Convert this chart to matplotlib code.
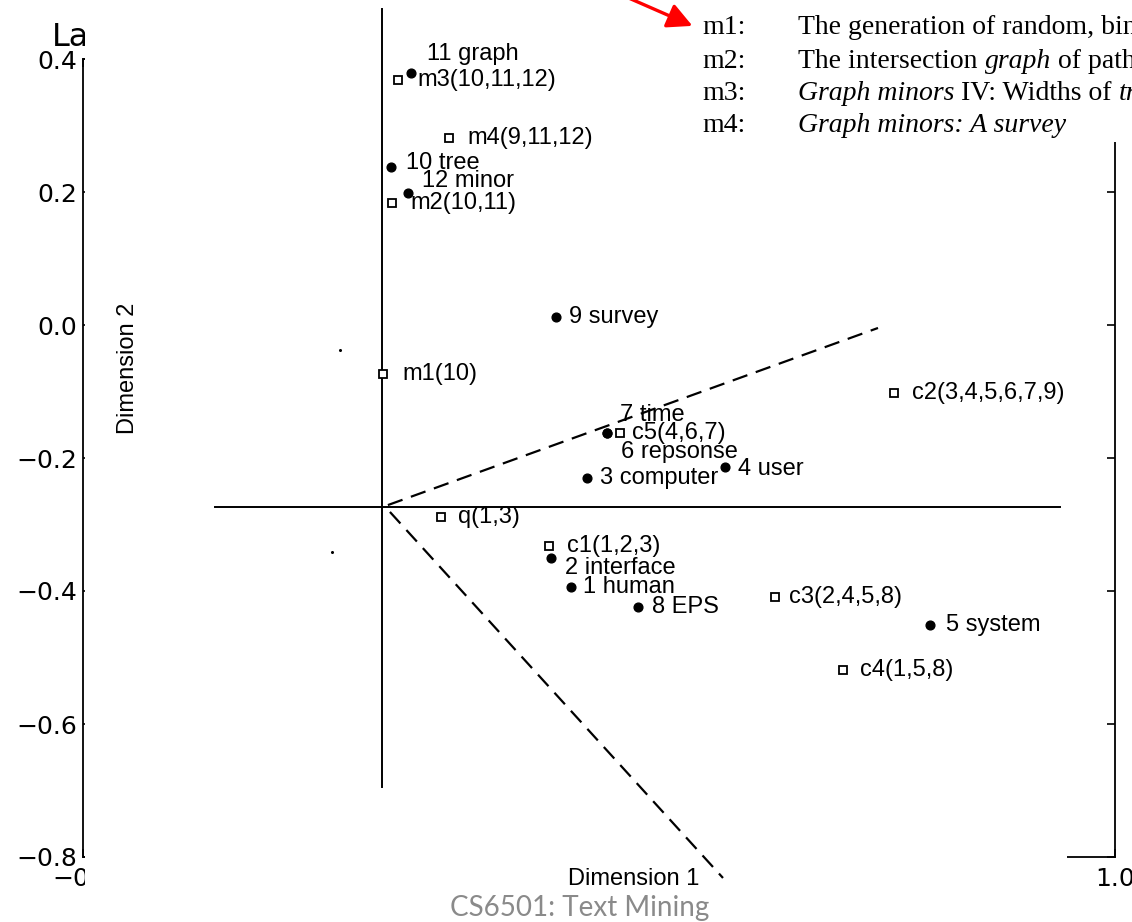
import matplotlib.pyplot as plt
from matplotlib.patches import Rectangle

# LSI plot (Deerwester et al.) values: Dimension 1, Dimension 2
term_names = ['1 human', '2 interface', '3 computer', '4 user', '5 system',
              '6 repsonse', '7 time', '8 EPS', '9 survey', '10 tree',
              '11 graph', '12 minor']
term_x = [0.738, 0.660, 0.801, 1.340, 2.141, 0.879, 0.879, 1.000, 0.680, 0.035, 0.113, 0.102]
term_y = [-0.291, -0.185, 0.105, 0.145, -0.429, 0.269, 0.269, -0.364, 0.691, 1.236, 1.578, 1.142]

doc_names = ['c1(1,2,3)', 'c2(3,4,5,6,7,9)', 'c3(2,4,5,8)', 'c4(1,5,8)', 'c5(4,6,7)',
             'm1(10)', 'm2(10,11)', 'm3(10,11,12)', 'm4(9,11,12)', 'q(1,3)']
doc_x = [0.652, 2.000, 1.535, 1.801, 0.930, 0.004, 0.039, 0.0625, 0.262, 0.230]
doc_y = [-0.142, 0.415, -0.327, -0.593, 0.269, 0.484, 1.105, 1.553, 1.342, -0.036]

# query cone (dashed) end points
cone_upper_x = [0.023, 1.9375]
cone_upper_y = [0.007, 0.651]
cone_lower_x = [0.031, 1.332]
cone_lower_y = [-0.018, -1.349]

# document titles listed top right
doc_ids = ['m1:', 'm2:', 'm3:', 'm4:']
doc_titles = [
    [('The generation of random, binary, ordered trees', 'normal')],
    [('The intersection ', 'normal'), ('graph', 'italic'), (' of paths in trees', 'normal')],
    [('Graph minors', 'italic'), (' IV: Widths of ', 'normal'), ('trees', 'italic'),
     (' and well-quasi-ordering', 'normal')],
    [('Graph minors: A survey', 'italic')],
]

# background axes ticks
y_ticks = [0.4, 0.2, 0.0, -0.2, -0.4, -0.6, -0.8]
x_ticks = [-0.2, 0.0, 0.2, 0.4, 0.6, 0.8, 1.0]

# label offsets in pixels (dx, dy up)
label_off = {
    '1 human': (12, 0), '2 interface': (14, -10), '3 computer': (13, 0),
    '4 user': (13, -2), '5 system': (16, 0), '6 repsonse': (14, -19),
    '7 time': (13, 18), '8 EPS': (14, 0), '9 survey': (13, 0),
    '10 tree': (15, 4), '11 graph': (16, 19), '12 minor': (14, 12),
    'c1(1,2,3)': (18, 0), 'c2(3,4,5,6,7,9)': (18, 0), 'c3(2,4,5,8)': (14, 0),
    'c4(1,5,8)': (17, 0), 'c5(4,6,7)': (12, 0), 'm1(10)': (19, 0),
    'm2(10,11)': (18, 0), 'm3(10,11,12)': (19, 0), 'm4(9,11,12)': (18, 0),
    'q(1,3)': (17, 0),
}

W, H = 1132, 922
fig = plt.figure(figsize=(W / 100, H / 100), dpi=100)

# ---- underlying matplotlib axes (mostly hidden by the pasted scan) ----
ax = fig.add_axes([83 / W, 1 - 857 / H, (1115 - 83) / W, (857 - 59) / H])
ax.set_xlim(-0.2, 1.0)
ax.set_ylim(-0.8, 0.4)
ax.set_xticks(x_ticks)
ax.set_yticks(y_ticks)
ax.tick_params(direction='in', length=6, width=1.2, labelsize=18,
               right=True, top=True)
ax.tick_params(axis='x', pad=7)
ax.tick_params(axis='y', pad=4)
for s in ax.spines.values():
    s.set_linewidth(1.3)

fig.text(52 / W, 1 - 37 / H, 'La', fontsize=23, va='center', ha='left', zorder=0.5)

# white areas of the pasted images
fig.add_artist(Rectangle((84.5 / W, 1 - 892 / H), (1067 - 84.5) / W, 892 / H,
                         transform=fig.transFigure, fc='white', ec='none', zorder=1))
fig.add_artist(Rectangle((1060 / W, 1 - 142 / H), (W - 1060) / W, 142 / H,
                         transform=fig.transFigure, fc='white', ec='none', zorder=1))

# ---- scanned LSI figure ----
ax2 = fig.add_axes([0, 0, 1, 1], zorder=2)
ax2.patch.set_visible(False)
ax2.axis('off')
ax2.set_xlim(-382 / 256, (W - 382) / 256)
ax2.set_ylim((507 - H) / 275, 507 / 275)

ax2.plot([0, 0], [1.811, -1.018], color='black', lw=1.4)
ax2.plot([-0.652, 2.648], [0, 0], color='black', lw=1.4)
ax2.plot(cone_upper_x, cone_upper_y, color='black', lw=1.6, ls=(0, (7, 4)))
ax2.plot(cone_lower_x, cone_lower_y, color='black', lw=1.6, ls=(0, (7, 4)))

ax2.plot(term_x, term_y, 'o', color='black', ms=6.3, ls='none')
ax2.plot(doc_x, doc_y, 's', mfc='white', mec='black', mew=1.3, ms=6.3, ls='none')

lab_font = dict(fontsize=17, family='Liberation Sans', va='center', ha='left')
for n, x, y in list(zip(term_names, term_x, term_y)) + list(zip(doc_names, doc_x, doc_y)):
    dx, dy = label_off[n]
    ax2.annotate(n, (x, y), xytext=(dx * 0.72, dy * 0.72),
                 textcoords='offset points', **lab_font)

# stray specks of the scan
ax2.plot([-0.164, -0.195], [0.571, -0.164], 'o', color='black', ms=1.2, ls='none')

fig.text(568 / W, 1 - 879 / H, 'Dimension 1', fontsize=17, family='Liberation Sans',
         ha='left', va='center', zorder=3)
fig.text(128 / W, 1 - 368 / H, 'Dimension 2', fontsize=17, family='Liberation Sans',
         ha='center', va='center', rotation=90, zorder=3)

# ---- list of titles, top right ----
row_y = [28, 61, 93, 125]
serif = 'Liberation Serif'
for i in range(len(doc_ids)):
    fig.text(702 / W, 1 - row_y[i] / H, doc_ids[i], fontsize=20, family=serif,
             ha='left', va='center', zorder=3)
    prev = None
    for txt, style in doc_titles[i]:
        if prev is None:
            prev = fig.text(798 / W, 1 - row_y[i] / H, txt, fontsize=20, family=serif,
                            style=style, ha='left', va='center', zorder=3)
        else:
            prev = ax2.annotate(txt, xy=(1, 0), xycoords=prev, fontsize=20,
                                family=serif, style=style, ha='left', va='bottom',
                                annotation_clip=False)

# red arrow to m1
ax2.annotate('', xy=(695, H - 27), xycoords='figure pixels',
             xytext=(560, H + 32), textcoords='figure pixels',
             arrowprops=dict(arrowstyle='-|>,head_length=0.75,head_width=0.38',
                             color='#ff0000', lw=2.4, mutation_scale=20),
             annotation_clip=False)

fig.text(580 / W, 1 - 908 / H, 'CS6501: Text Mining', fontsize=20, family='Lato',
         color='#8a8a8a', ha='center', va='center', zorder=5)

plt.savefig('out.png', dpi=100)
